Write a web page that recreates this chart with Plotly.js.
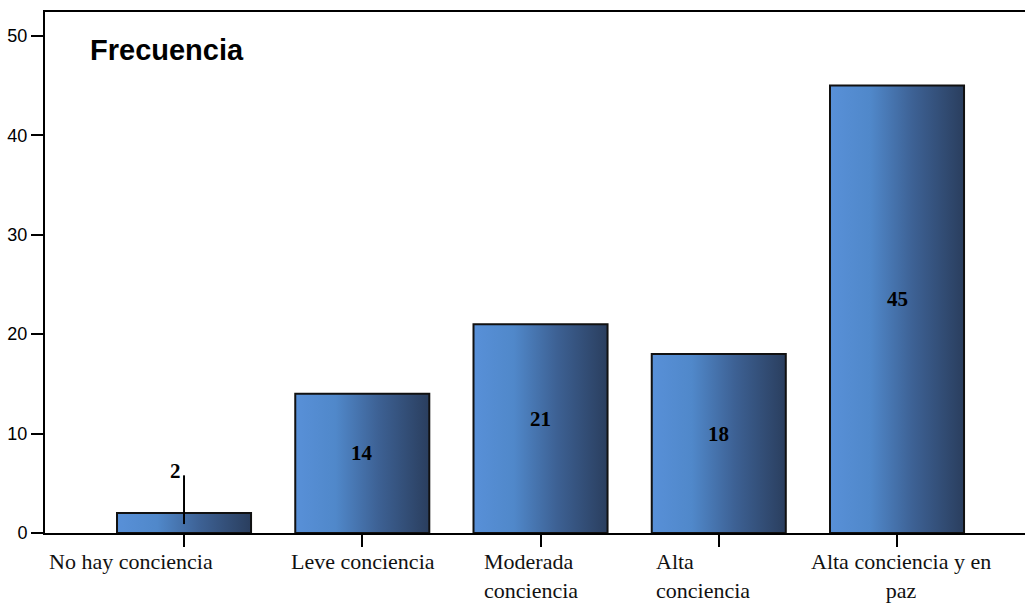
<!DOCTYPE html>
<html>
<head>
<meta charset="utf-8">
<script src="https://cdn.plot.ly/plotly-3.0.1.min.js"></script>
<style>
  html, body { margin: 0; padding: 0; background: #ffffff; }
  #chart { width: 1025px; height: 609px; }
</style>
</head>
<body>
<div id="chart"></div>
<script>
// Frequency of each level of awareness
const categories = ['No hay conciencia', 'Leve conciencia', 'Moderada conciencia', 'Alta conciencia', 'Alta conciencia y en paz'];
const tickLabels = ['No hay conciencia', 'Leve conciencia', 'Moderada<br>conciencia', 'Alta<br>conciencia', 'Alta conciencia y en<br>paz'];
const frequencies = [2, 14, 21, 18, 45];
const yTickValues = [0, 10, 20, 30, 40, 50];

// Placement of the category captions under each tick (pixels / anchoring)
const captionPlacement = [
  { xanchor: 'center', align: 'center', xshift: -53 },
  { xanchor: 'center', align: 'center', xshift: 1 },
  { xanchor: 'left',   align: 'left',   xshift: -59 },
  { xanchor: 'left',   align: 'left',   xshift: -65 },
  { xanchor: 'center', align: 'center', xshift: 4 }
];

const serif = 'Liberation Serif, Times New Roman, serif';
const sans = 'Liberation Sans, Arial, sans-serif';

const trace = {
  type: 'bar',
  x: categories,
  y: frequencies,
  width: 0.752,
  marker: { color: '#4f86c8', line: { color: '#111111', width: 2 } },
  hoverinfo: 'none'
};

const annotations = [];
const shapes = [];

// Value labels: centred in the bar, or lifted above short bars with a leader line
frequencies.forEach((v, i) => {
  if (v < 5) {
    annotations.push({
      x: categories[i], y: v + 4.2, xref: 'x', yref: 'y',
      text: String(v), showarrow: false, xshift: -9,
      font: { family: serif, size: 21, color: '#000000', weight: 'bold' }
    });
    shapes.push({
      type: 'line', xref: 'x', yref: 'y',
      x0: categories[i], x1: categories[i], y0: v * 0.45, y1: v + 3.8,
      line: { color: '#000000', width: 2 }
    });
  } else {
    annotations.push({
      x: categories[i], y: v / 2 + 1, xref: 'x', yref: 'y',
      text: String(v), showarrow: false,
      font: { family: serif, size: 21, color: '#000000', weight: 'bold' }
    });
  }
});

// Category captions under the axis
tickLabels.forEach((t, i) => {
  annotations.push({
    x: categories[i], y: 0, xref: 'x', yref: 'paper',
    yanchor: 'top', yshift: -14,
    xanchor: captionPlacement[i].xanchor, align: captionPlacement[i].align,
    xshift: captionPlacement[i].xshift,
    text: t, showarrow: false,
    font: { family: serif, size: 22, color: '#111111' }
  });
});

const layout = {
  width: 1025,
  height: 609,
  margin: { l: 45, r: 0, t: 12, b: 76 },
  paper_bgcolor: '#ffffff',
  plot_bgcolor: '#ffffff',
  showlegend: false,
  title: {
    text: 'Frecuencia',
    font: { family: sans, size: 29, color: '#000000', weight: 'bold' },
    xref: 'container', x: 90 / 1025, xanchor: 'left',
    yref: 'container', y: 1 - 50 / 609, yanchor: 'middle'
  },
  xaxis: {
    type: 'category',
    range: [-0.78, 4.718],
    showticklabels: false,
    ticks: 'outside', ticklen: 12, tickwidth: 2, tickcolor: '#000000',
    showline: true, linecolor: '#000000', linewidth: 2, mirror: true,
    showgrid: false, zeroline: false, fixedrange: true
  },
  yaxis: {
    range: [0, 52.4],
    tickmode: 'array', tickvals: yTickValues, ticktext: yTickValues.map(String),
    ticks: 'outside', ticklen: 12, tickwidth: 2, tickcolor: '#000000',
    tickfont: { family: sans, size: 18, color: '#000000' },
    showline: true, linecolor: '#000000', linewidth: 2,
    showgrid: false, zeroline: false, fixedrange: true
  },
  annotations: annotations,
  shapes: shapes
};

Plotly.newPlot('chart', [trace], layout, { displayModeBar: false, staticPlot: true }).then(gd => {
  // Horizontal light-to-dark blue shading on every bar
  const svg = gd.querySelector('svg.main-svg');
  const ns = 'http://www.w3.org/2000/svg';
  let defs = svg.querySelector('defs');
  if (!defs) { defs = document.createElementNS(ns, 'defs'); svg.insertBefore(defs, svg.firstChild); }
  const grad = document.createElementNS(ns, 'linearGradient');
  grad.setAttribute('id', 'barShade');
  grad.setAttribute('x1', '0'); grad.setAttribute('y1', '0');
  grad.setAttribute('x2', '1'); grad.setAttribute('y2', '0');
  [['0', '#5890d8'], ['0.3', '#5088ca'], ['0.62', '#3d6194'], ['1', '#2a3e5e']].forEach(([o, c]) => {
    const s = document.createElementNS(ns, 'stop');
    s.setAttribute('offset', o); s.setAttribute('stop-color', c);
    grad.appendChild(s);
  });
  defs.appendChild(grad);
  gd.querySelectorAll('.bars .point path').forEach(p => { p.style.fill = 'url(#barShade)'; });
});
</script>
</body>
</html>
